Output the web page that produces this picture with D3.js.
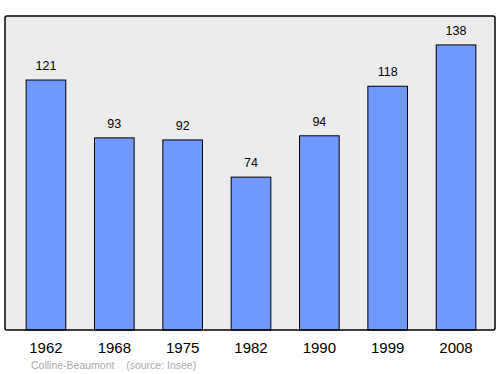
<!DOCTYPE html>
<html>
<head>
<meta charset="utf-8">
<script src="https://cdn.jsdelivr.net/npm/d3@7"></script>
<style>
  body { margin: 0; background: #fff; }
  text { font-family: "Liberation Sans", Arial, sans-serif; }
</style>
</head>
<body>
<div id="chart"></div>
<script>
// population data
const years = ["1962", "1968", "1975", "1982", "1990", "1999", "2008"];
const population = [121, 93, 92, 74, 94, 118, 138];

const W = 500, H = 374;
const frame = {left: 5, top: 16, right: 495, bottom: 330};

let svg = d3.select("#chart")
  .append("svg")
  .attr("width", W)
  .attr("height", H);

// grey plot area
svg.append("rect")
  .attr("x", frame.left)
  .attr("y", frame.top)
  .attr("width", frame.right - frame.left)
  .attr("height", frame.bottom - frame.top)
  .attr("rx", 2)
  .attr("fill", "#ececec");

const x = d3.scaleBand()
  .domain(years)
  .range([11.8, 490.2])
  .paddingInner(0.42)
  .paddingOuter(0.21);

const y = d3.scaleLinear()
  .domain([0, 152])
  .range([frame.bottom, frame.top]);

svg.selectAll(".bar")
  .data(years)
  .enter()
  .append("rect")
  .attr("class", "bar")
  .attr("x", d => x(d))
  .attr("width", x.bandwidth())
  .attr("y", (d, i) => y(population[i]))
  .attr("height", (d, i) => y(0) - y(population[i]))
  .attr("fill", "#7099ff")
  .attr("stroke", "#000")
  .attr("stroke-width", 1);

svg.selectAll(".val")
  .data(years)
  .enter()
  .append("text")
  .attr("class", "val")
  .attr("x", d => x(d) + x.bandwidth() / 2)
  .attr("y", (d, i) => y(population[i]) - 10)
  .attr("text-anchor", "middle")
  .style("font-size", "12.5px")
  .text((d, i) => population[i]);

// frame on top
svg.append("rect")
  .attr("x", frame.left)
  .attr("y", frame.top)
  .attr("width", frame.right - frame.left)
  .attr("height", frame.bottom - frame.top)
  .attr("rx", 2)
  .attr("fill", "none")
  .attr("stroke", "#000")
  .attr("stroke-width", 1.5);

svg.selectAll(".year")
  .data(years)
  .enter()
  .append("text")
  .attr("class", "year")
  .attr("x", d => x(d) + x.bandwidth() / 2)
  .attr("y", 353)
  .attr("text-anchor", "middle")
  .style("font-size", "15px")
  .text(d => d);

svg.append("text")
  .attr("x", 31)
  .attr("y", 369)
  .attr("fill", "#aaa")
  .style("font-size", "10.5px")
  .style("white-space", "pre")
  .text("Colline-Beaumont    (source: Insee)");
</script>
</body>
</html>
